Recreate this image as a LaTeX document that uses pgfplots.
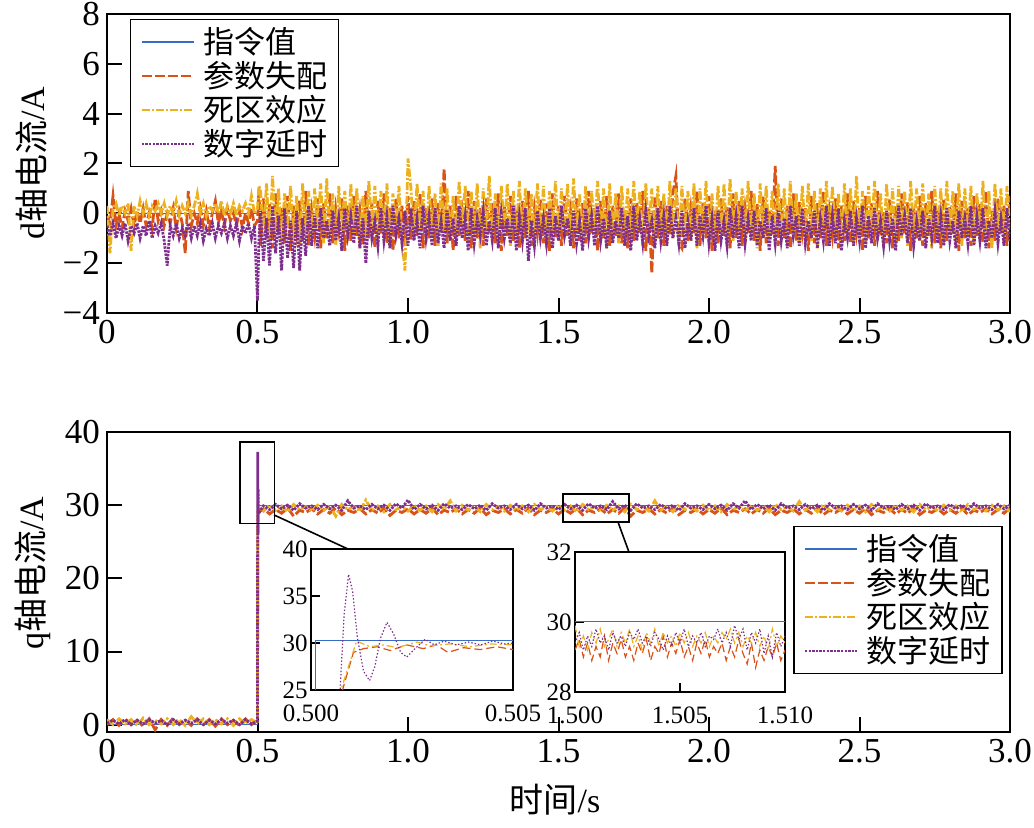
\documentclass[border=0pt]{standalone}
\usepackage{fontspec}
\setmainfont{Liberation Serif}
\newfontfamily\cjk{Noto Sans CJK SC}
\usepackage{pgfplots}
\pgfplotsset{compat=1.18}
\usepackage{pgfplotstable}
\definecolor{mb}{RGB}{55,110,195}
\definecolor{mo}{RGB}{217,83,25}
\definecolor{my}{RGB}{237,177,32}
\definecolor{mp}{RGB}{126,47,142}

\pgfplotstableread{
t a b c
0.00 -0.1 0.3 -0.5
0.01 -0.4 -1.6 -0.9
0.02 0.7 0.2 -0.4
0.03 -0.5 0.4 -1.0
0.04 0.0 -0.1 -0.5
0.05 -0.6 0.3 -0.9
0.06 0.1 0.0 -0.4
0.07 -0.3 0.4 -1.1
0.08 0.2 -1.5 -0.5
0.09 -0.5 0.3 -0.8
0.10 0.1 -0.1 -0.4
0.11 -0.4 0.5 -1.0
0.12 0.2 0.0 -0.5
0.13 -0.5 0.4 -0.9
0.14 0.0 -0.1 -0.3
0.15 -0.6 0.3 -1.0
0.16 0.6 0.1 -0.5
0.17 -0.3 0.4 -0.8
0.18 0.1 0.0 -0.4
0.19 -0.5 0.4 -1.1
0.20 0.0 -0.1 -2.1
0.21 -0.4 0.3 -0.5
0.22 0.2 0.0 -0.9
0.23 -0.6 0.5 -0.4
0.24 0.1 -0.1 -1.0
0.25 -0.4 0.3 -0.6
0.26 -1.6 0.0 -0.9
0.27 0.9 0.4 -0.4
0.28 -0.5 -0.1 -1.0
0.29 0.0 0.3 -0.5
0.30 -0.4 0.8 -0.9
0.31 0.2 0.0 -0.4
0.32 -0.5 0.4 -1.1
0.33 0.1 -0.1 -0.6
0.34 -0.6 0.3 -0.9
0.35 0.0 0.1 -0.4
0.36 0.5 0.4 -1.0
0.37 -0.4 0.0 -0.5
0.38 0.1 0.5 -0.8
0.39 -0.5 -0.1 -0.4
0.40 0.2 0.3 -1.0
0.41 -0.3 0.0 -0.5
0.42 0.0 0.4 -0.9
0.43 -0.5 -0.1 -0.4
0.44 0.1 0.3 -1.1
0.45 -0.6 0.1 -0.5
0.46 0.0 0.4 -0.8
0.47 -0.4 0.0 -0.4
0.48 0.2 0.7 -1.0
0.49 -0.5 0.0 -0.5
0.50 -0.3 0.2 -3.5
0.505 1.0 1.1 -1.0
0.51 -1.3 0.9 0.1
0.52 0.6 -0.9 -1.9
0.53 -1.0 1.2 -0.2
0.54 0.4 -1.1 -2.1
0.55 -1.4 1.5 0.3
0.56 0.8 -0.7 -1.6
0.57 -0.9 1.0 -0.1
0.58 0.2 -1.2 -2.3
0.59 -1.2 0.8 0.2
0.60 0.7 -0.6 -1.8
0.61 -1.5 1.1 -0.3
0.62 0.3 -1.0 -2.2
0.63 -0.8 0.7 0.1
0.64 0.5 -1.3 -2.3
0.65 -1.1 1.2 -0.2
0.66 0.9 -0.8 -1.7
0.67 -1.3 0.9 0.3
0.68 0.1 -1.1 -1.3
0.69 -0.9 1.0 -0.1
0.70 0.6 -0.5 -1.4
0.71 -1.4 1.2 0.2
0.72 0.4 -1.2 -1.0
0.73 -1.0 1.4 -0.3
0.74 0.8 -0.9 -1.3
0.75 -1.2 0.8 0.1
0.76 0.2 -1.3 -1.1
0.77 -0.7 1.1 -0.2
0.78 0.6 -0.7 -1.5
0.79 -1.5 0.9 0.2
0.80 0.3 -1.1 -0.9
0.81 -1.1 1.2 -0.1
0.82 0.7 -0.8 -1.2
0.83 -0.9 1.0 0.3
0.84 0.1 -1.4 -1.4
0.85 -1.3 0.7 -0.2
0.86 0.9 -1.0 -2.0
0.87 -1.0 1.3 0.1
0.88 0.4 -0.6 -1.0
0.89 -1.4 1.1 -0.3
0.90 0.5 -1.2 -1.3
0.91 -0.8 0.9 0.2
0.92 0.8 -0.9 -1.1
0.93 -1.2 1.2 -0.1
0.94 0.2 -1.3 -1.4
0.95 -1.5 0.8 0.3
0.96 0.6 -0.7 -0.9
0.97 -1.0 1.1 -0.2
0.98 0.3 -1.1 -1.2
0.99 -1.3 -2.3 0.1
1.00 0.7 2.2 -1.3
1.01 -1.1 1.0 0.2
1.02 0.5 -1.0 -1.1
1.03 -0.9 1.2 -0.2
1.04 0.8 -0.7 -1.4
1.05 -1.4 0.9 0.3
1.06 0.2 -1.2 -1.0
1.07 -1.0 1.1 -0.1
1.08 0.6 -0.9 -1.3
1.09 -1.3 0.8 0.2
1.10 0.4 -1.3 -1.2
1.11 -0.8 1.2 -0.3
1.12 1.8 -0.8 -1.4
1.13 -1.2 1.0 0.1
1.14 0.3 -1.1 -1.1
1.15 -1.5 0.7 -0.2
1.16 0.7 -1.0 -1.3
1.17 -0.9 1.3 0.3
1.18 0.1 -0.6 -1.0
1.19 -1.1 1.1 -0.1
1.20 0.9 -1.2 -1.5
1.21 -1.4 0.9 0.2
1.22 0.5 -0.9 -1.2
1.23 -1.0 1.2 -0.2
1.24 0.2 -1.4 -0.9
1.25 -1.3 1.0 0.1
1.26 0.6 -0.8 -1.3
1.27 -0.8 1.5 -0.3
1.28 0.4 -1.1 -1.1
1.29 -1.2 0.8 0.2
1.30 0.8 -1.0 -1.4
1.31 -1.5 1.1 0.0
1.32 0.3 -0.7 -1.0
1.33 -0.9 1.2 -0.2
1.34 0.7 -1.3 -1.2
1.35 -1.1 0.9 0.3
1.36 0.1 -0.9 -1.5
1.37 -1.4 1.3 -0.1
1.38 0.5 -1.2 -1.1
1.39 -1.0 1.0 0.2
1.40 0.9 -0.8 -1.9
1.41 -1.3 0.8 -0.3
1.42 0.2 -1.1 -1.3
1.43 -0.8 1.2 0.1
1.44 0.6 -1.0 -1.0
1.45 -1.2 1.1 -0.2
1.46 0.4 -1.4 -1.2
1.47 -1.5 0.9 0.2
1.48 0.8 -0.7 -1.4
1.49 -1.0 1.3 -0.1
1.50 0.3 -1.1 -1.1
1.51 -1.3 1.0 0.3
1.52 0.7 -0.9 -0.9
1.53 -0.9 1.2 -0.2
1.54 0.1 -1.3 -1.3
1.55 -1.4 1.4 0.1
1.56 0.6 -0.8 -1.2
1.57 -1.1 0.8 -0.3
1.58 0.4 -1.2 -1.5
1.59 -1.2 1.1 0.2
1.60 0.9 -1.0 -1.0
1.61 -0.8 0.9 -0.1
1.62 0.2 -0.7 -1.3
1.63 -1.5 1.3 0.3
1.64 0.5 -1.1 -1.1
1.65 -1.0 1.0 -0.2
1.66 0.7 -1.4 -1.4
1.67 -1.3 1.2 0.1
1.68 0.3 -0.9 -1.2
1.69 -0.9 0.8 -0.3
1.70 0.8 -1.2 -1.0
1.71 -1.2 1.1 0.2
1.72 0.1 -0.8 -1.3
1.73 -1.4 1.0 -0.1
1.74 0.6 -1.1 -1.5
1.75 -1.1 1.3 0.3
1.76 0.4 -1.0 -1.1
1.77 -0.8 0.9 -0.2
1.78 0.9 -1.3 -1.2
1.79 -1.5 1.2 0.1
1.80 0.2 -0.7 -0.9
1.81 -2.4 1.0 -0.3
1.82 0.7 -1.1 -1.4
1.83 -1.0 1.1 0.2
1.84 0.5 -0.9 -1.1
1.85 -1.3 0.8 -0.1
1.86 0.3 -1.2 -1.3
1.87 -0.9 1.3 0.3
1.88 0.8 -1.0 -1.0
1.89 1.5 1.0 -0.2
1.90 -1.2 -1.3 -1.2
1.91 -1.4 1.1 0.1
1.92 0.6 -0.8 -1.4
1.93 -1.1 0.9 -0.3
1.94 0.2 -1.1 -1.1
1.95 -0.8 1.2 0.2
1.96 0.9 -1.4 -1.3
1.97 -1.3 1.0 -0.1
1.98 0.4 -0.9 -0.9
1.99 -1.0 1.3 0.3
2.00 0.7 -1.2 -1.2
2.01 -1.5 0.8 -0.2
2.02 0.1 -1.0 -1.5
2.03 -1.2 1.1 0.1
2.04 0.6 -0.7 -1.1
2.05 -0.9 1.2 -0.3
2.06 0.3 -1.3 -1.3
2.07 -1.4 1.4 0.2
2.08 0.8 -1.1 -1.0
2.09 -1.0 0.9 -0.1
2.10 0.5 -0.8 -1.4
2.11 -1.3 1.0 0.3
2.12 0.2 -1.2 -1.2
2.13 -0.8 1.3 -0.2
2.14 0.9 -1.0 -1.1
2.15 -1.1 0.8 0.1
2.16 0.4 -1.4 -1.3
2.17 -1.5 1.2 -0.3
2.18 0.7 -0.9 -1.0
2.19 -1.2 1.1 0.2
2.20 0.1 -1.1 -1.5
2.21 -0.9 0.9 -0.1
2.22 1.9 -1.3 -1.2
2.23 -1.3 1.2 0.1
2.24 0.6 -0.8 -1.1
2.25 -1.0 1.0 -0.2
2.26 0.3 -1.2 -1.4
2.27 -1.4 1.3 0.3
2.28 0.8 -1.0 -0.9
2.29 -1.1 0.8 -0.1
2.30 0.5 -1.3 -1.3
2.31 -0.8 1.1 0.2
2.32 0.2 -0.9 -1.2
2.33 -1.5 1.2 -0.3
2.34 0.7 -1.1 -1.0
2.35 -1.2 0.9 0.1
2.36 0.4 -1.4 -1.4
2.37 -1.0 1.0 -0.2
2.38 0.9 -0.8 -1.1
2.39 -1.3 1.3 0.3
2.40 0.1 -1.2 -1.3
2.41 -0.9 1.1 -0.1
2.42 0.6 -1.0 -1.2
2.43 -1.4 0.8 0.2
2.44 0.3 -1.1 -1.5
2.45 -1.1 1.2 -0.3
2.46 0.8 -0.9 -1.0
2.47 -1.2 1.0 0.1
2.48 0.5 -1.3 -1.3
2.49 -0.8 1.5 -0.2
2.50 0.2 -1.0 -1.1
2.51 -1.5 0.9 0.3
2.52 0.7 -1.2 -1.4
2.53 -1.0 1.1 -0.1
2.54 0.4 -0.8 -1.2
2.55 -1.3 1.3 0.2
2.56 0.9 -1.1 -1.0
2.57 -0.9 0.8 -0.3
2.58 0.1 -1.4 -1.3
2.59 -1.2 1.2 0.1
2.60 0.6 -0.9 -1.1
2.61 -1.4 1.0 -0.2
2.62 0.3 -1.2 -1.5
2.63 -1.1 1.1 0.3
2.64 0.8 -1.0 -0.9
2.65 -0.8 0.9 -0.1
2.66 0.5 -1.3 -1.2
2.67 -1.5 1.3 0.2
2.68 0.2 -0.8 -1.3
2.69 -1.0 1.0 -0.3
2.70 0.7 -1.1 -1.1
2.71 -1.3 1.2 0.1
2.72 0.4 -1.0 -1.4
2.73 -0.9 0.8 -0.2
2.74 0.9 -1.4 -1.0
2.75 -1.2 1.1 0.3
2.76 0.1 -0.9 -1.2
2.77 -1.4 1.0 -0.1
2.78 0.6 -1.2 -1.3
2.79 -1.1 1.3 0.2
2.80 0.3 -0.8 -1.1
2.81 -0.8 0.9 -0.3
2.82 0.8 -1.1 -1.4
2.83 -1.5 1.2 0.1
2.84 0.5 -1.3 -1.0
2.85 -1.0 1.0 -0.2
2.86 0.2 -0.9 -1.2
2.87 -1.3 1.1 0.3
2.88 0.7 -1.2 -1.3
2.89 -0.9 0.8 -0.1
2.90 0.4 -1.0 -1.1
2.91 -1.2 1.3 0.2
2.92 0.9 -1.1 -1.4
2.93 -1.4 0.9 -0.3
2.94 0.1 -1.4 -1.0
2.95 -1.1 1.2 0.1
2.96 0.6 -0.8 -1.2
2.97 -0.8 1.0 -0.2
2.98 0.3 -1.2 -1.3
2.99 -1.3 1.1 0.2
3.00 0.7 -0.9 -1.1
}\dtab

\pgfplotstableread{
t a b c
0.00 0.0 0.7 0.2
0.02 0.7 0.0 0.6
0.04 -0.1 0.8 0.1
0.06 0.8 0.1 0.7
0.08 0.0 0.7 0.0
0.10 0.6 -0.1 0.6
0.12 -0.2 0.9 0.1
0.14 0.8 0.0 0.7
0.16 -0.7 0.6 0.2
0.18 0.7 0.1 0.6
0.20 -0.1 0.8 0.0
0.22 0.9 0.0 0.7
0.24 0.0 0.7 0.1
0.26 0.6 -0.1 0.6
0.28 -0.1 1.1 0.2
0.30 0.8 0.1 0.7
0.32 0.0 0.8 0.0
0.34 0.7 0.0 0.6
0.36 -0.2 0.7 0.1
0.38 0.8 0.1 0.7
0.40 0.0 0.8 0.2
0.42 0.6 -0.1 0.6
0.44 -0.1 0.8 0.0
0.46 0.8 0.1 0.7
0.48 0.0 0.7 0.1
0.50 0.6 0.2 0.5
0.5008 24.0 25.5 37.3
0.5015 28.5 30.1 26.0
0.5020 29.4 29.6 32.2
0.5025 29.0 30.0 28.8
0.52 29.5 29.2 29.9
0.54 28.8 30.0 29.4
0.56 29.4 29.3 30.1
0.58 28.9 29.9 29.5
0.60 29.6 29.1 30.0
0.62 28.5 30.1 29.3
0.64 29.3 29.4 30.2
0.66 29.0 29.8 29.6
0.68 29.5 29.2 29.9
0.70 28.8 30.0 29.4
0.72 29.4 29.3 30.1
0.74 28.9 29.9 29.5
0.76 29.6 28.5 30.0
0.78 28.7 30.1 29.3
0.80 29.3 29.4 30.6
0.82 29.0 29.8 29.6
0.84 29.5 29.2 29.9
0.86 28.8 30.7 29.4
0.88 29.4 29.3 30.1
0.90 28.9 29.9 29.5
0.92 29.6 29.1 30.0
0.94 28.6 30.1 29.3
0.96 29.3 29.4 30.2
0.98 29.0 29.8 29.6
1.00 29.5 29.2 30.7
1.02 28.8 30.0 29.4
1.04 29.4 29.3 30.1
1.06 28.9 29.9 29.5
1.08 29.6 29.1 30.0
1.10 28.7 30.1 29.3
1.12 29.3 29.4 30.2
1.14 29.0 30.6 29.6
1.16 29.5 29.2 29.9
1.18 28.8 30.0 29.4
1.20 29.4 29.3 30.1
1.22 28.9 29.9 29.5
1.24 29.6 29.1 30.0
1.26 28.7 30.1 29.3
1.28 29.3 29.4 30.2
1.30 29.0 29.8 29.6
1.32 29.5 29.2 29.9
1.34 28.8 30.0 29.4
1.36 29.4 29.3 30.1
1.38 28.9 29.9 29.5
1.40 29.6 29.1 30.0
1.42 28.7 30.1 29.3
1.44 29.3 29.4 30.2
1.46 29.0 29.8 29.6
1.48 29.5 29.2 29.9
1.50 28.8 30.0 29.4
1.52 29.4 29.3 30.1
1.54 28.9 29.9 29.5
1.56 29.6 29.1 30.0
1.58 28.7 30.1 29.3
1.60 29.3 29.4 30.2
1.62 29.0 29.8 29.6
1.64 29.5 29.2 29.9
1.66 28.8 30.0 29.4
1.68 29.4 29.3 30.5
1.70 28.9 29.9 29.5
1.72 29.6 29.1 30.0
1.74 28.5 30.1 29.3
1.76 29.3 29.4 30.2
1.78 29.0 29.8 29.6
1.80 29.5 29.2 29.9
1.82 28.8 30.6 29.4
1.84 29.4 29.3 30.1
1.86 28.9 29.9 29.5
1.88 29.6 29.1 30.0
1.90 28.7 30.1 29.3
1.92 29.3 29.4 30.2
1.94 29.0 29.8 29.6
1.96 29.5 29.2 29.9
1.98 28.8 30.0 29.4
2.00 29.4 29.3 30.1
2.02 28.9 29.9 29.5
2.04 29.6 29.1 30.0
2.06 28.7 30.1 29.3
2.08 29.3 29.4 30.2
2.10 29.0 29.8 29.6
2.12 29.5 29.2 30.6
2.14 28.8 30.0 29.4
2.16 29.4 29.3 30.1
2.18 28.9 29.9 29.5
2.20 29.6 29.1 30.0
2.22 28.7 30.1 29.3
2.24 29.3 29.4 30.2
2.26 29.0 29.8 29.6
2.28 29.5 29.2 29.9
2.30 28.8 30.5 29.4
2.32 29.4 29.3 30.1
2.34 28.9 29.9 29.5
2.36 29.6 29.1 30.0
2.38 28.7 30.1 29.3
2.40 29.3 29.4 30.2
2.42 29.0 29.8 29.6
2.44 29.5 29.2 29.9
2.46 28.8 30.0 29.4
2.48 29.4 29.3 30.1
2.50 28.9 29.9 29.5
2.52 29.6 29.1 30.0
2.54 28.7 30.1 29.3
2.56 29.3 29.4 30.2
2.58 29.0 29.8 29.6
2.60 29.5 29.2 29.9
2.62 28.8 30.0 29.4
2.64 29.4 29.3 30.1
2.66 28.9 29.9 29.5
2.68 29.6 29.1 30.0
2.70 28.7 30.1 29.3
2.72 29.3 29.4 30.2
2.74 29.0 29.8 29.6
2.76 29.5 29.2 29.9
2.78 28.8 30.0 29.4
2.80 29.4 29.3 30.1
2.82 28.9 29.9 29.5
2.84 29.6 29.1 30.0
2.86 28.7 30.1 29.3
2.88 29.3 29.4 30.2
2.90 29.0 29.8 29.6
2.92 29.5 29.2 29.9
2.94 28.8 30.0 29.4
2.96 29.4 29.3 30.1
2.98 28.9 29.9 29.5
3.00 29.6 29.1 30.0
}\qtab

\pgfplotstableread{
t a b c
1.5000 29.2 29.9 29.4
1.5002 29.5 29.3 29.7
1.5004 29.0 29.6 29.2
1.5006 29.4 29.2 29.6
1.5008 28.9 29.7 29.3
1.5010 29.3 29.4 29.8
1.5012 29.0 29.8 29.4
1.5014 29.6 29.3 29.6
1.5016 28.9 29.5 29.2
1.5018 29.4 29.8 29.7
1.5020 29.1 29.3 29.4
1.5022 29.5 29.7 29.6
1.5024 29.0 29.4 29.3
1.5026 29.3 29.8 29.7
1.5028 28.9 29.3 29.5
1.5030 29.4 29.6 29.8
1.5032 29.1 29.2 29.4
1.5034 29.5 29.7 29.6
1.5036 28.9 29.4 29.3
1.5038 29.3 29.8 29.7
1.5040 29.1 29.3 29.5
1.5042 29.6 29.7 29.2
1.5044 29.0 29.4 29.6
1.5046 29.4 29.6 29.3
1.5048 29.1 29.3 29.7
1.5050 29.5 29.7 29.4
1.5052 29.0 29.4 29.8
1.5054 29.3 29.7 29.3
1.5056 28.9 29.3 29.6
1.5058 29.4 29.6 29.4
1.5060 29.1 29.4 29.7
1.5062 29.5 29.7 29.3
1.5064 29.0 29.3 29.6
1.5066 29.3 29.6 29.5
1.5068 29.1 29.4 29.8
1.5070 29.4 29.7 29.4
1.5072 28.9 29.5 29.7
1.5074 29.3 29.8 29.3
1.5076 29.0 29.4 29.9
1.5078 29.5 29.7 29.5
1.5080 29.1 29.3 29.8
1.5082 28.8 29.6 29.2
1.5084 29.4 29.4 29.7
1.5086 28.7 29.7 29.4
1.5088 29.2 29.3 29.8
1.5090 28.9 29.6 29.1
1.5092 29.3 29.2 29.6
1.5094 29.0 29.8 29.0
1.5096 29.4 29.3 29.7
1.5098 28.9 29.6 29.3
1.5100 29.2 29.4 29.6
}\ztab

\pgfplotsset{
  sB/.style={mb, line width=0.5pt},
  sO/.style={mo, line width=1.4pt, dash pattern=on 5pt off 1.5pt},
  sY/.style={my, line width=1.4pt, dash pattern=on 4pt off 1pt on 1pt off 1pt},
  sP/.style={mp, line width=1.4pt, dash pattern=on 1.2pt off 0.6pt},
  iO/.style={mo, line width=0.6pt, dash pattern=on 4pt off 2pt},
  iY/.style={my, line width=0.6pt, dash pattern=on 3.5pt off 1.5pt on 1pt off 1.5pt},
  iP/.style={mp, line width=0.6pt, dash pattern=on 0.7pt off 1pt},
  mainax/.style={
    scale only axis, width=451.5pt,
    xmin=0, xmax=3,
    xtick={0,0.5,1,1.5,2,2.5,3},
    xticklabels={0,0.5,1.0,1.5,2.0,2.5,3.0},
    /pgf/number format/assume math mode=true,
    tick label style={font=\fontsize{17.5}{18}\selectfont},
    axis line style={line width=1pt},
    tick style={line width=1pt, black},
    major tick length=7.5pt,
    tick align=inside, tick pos=left,
    legend image code/.code={\draw[##1] (0pt,0pt) -- (26pt,0pt);},
    legend image post style={line width=1pt},
    legend style={draw=black, line width=0.7pt, fill=white,
      font=\cjk\fontsize{15.5}{17}\selectfont,
      cells={anchor=west}, inner xsep=5pt, inner ysep=3.5pt,
      row sep=1.3pt, column sep=4pt,
      nodes={inner sep=0.5pt}},
  },
  insetax/.style={
    scale only axis,
    axis background/.style={fill=white},
    scaled x ticks=false, scaled y ticks=false,
    /pgf/number format/assume math mode=true,
    tick label style={font=\fontsize{12.5}{12.5}\selectfont},
    xticklabel style={yshift=-4pt},
    yticklabel style={inner xsep=1.5pt},
    axis line style={line width=0.8pt},
    tick style={line width=0.8pt, black},
    major tick length=4.5pt,
    tick align=inside, tick pos=left,
  },
}

\begin{document}
\begin{tikzpicture}
\path[use as bounding box] (0pt,0pt) rectangle (517pt,-414pt);

% top: d axis current
\begin{axis}[mainax, at={(53.5pt,-156.5pt)}, anchor=south west,
  height=149.5pt, ymin=-4, ymax=8,
  ytick={-4,-2,0,2,4,6,8}, yticklabels={−4,−2,0,2,4,6,8},
  legend style={at={(0.0255,0.983)}, anchor=north west}]
\addplot[sB] coordinates {(0,0) (3,0)};
\addplot[sO] table[x=t,y=a]{\dtab};
\addplot[sY] table[x=t,y=b]{\dtab};
\addplot[sP] table[x=t,y=c]{\dtab};
\legend{指令值,参数失配,死区效应,数字延时}
\end{axis}

% bottom: q axis current
\begin{axis}[mainax, at={(53.5pt,-366pt)}, anchor=south west,
  height=150pt, ymin=-1, ymax=40,
  ytick={0,10,20,30,40}, yticklabels={0,10,20,30,40},
  legend style={at={(0.760,0.687)}, anchor=north west}]
\addplot[sB] coordinates {(0,0) (0.5,0) (0.5,30) (3,30)};
\addplot[sO] table[x=t,y=a]{\qtab};
\addplot[sY] table[x=t,y=b]{\qtab};
\addplot[sP] table[x=t,y=c]{\qtab};
\legend{指令值,参数失配,死区效应,数字延时}
\draw[line width=0.8pt] (axis cs:0.442,27.5) rectangle (axis cs:0.556,38.6);
\draw[line width=0.8pt] (axis cs:1.514,27.66) rectangle (axis cs:1.735,31.5);
\draw[line width=0.8pt] (axis cs:0.555,28.66) -- (axis cs:0.801,24.0);
\draw[line width=0.8pt] (axis cs:1.698,27.66) -- (axis cs:1.734,23.6);
\end{axis}

% inset 1
\begin{axis}[insetax, at={(155.5pt,-345pt)}, anchor=south west,
  width=101pt, height=70.5pt,
  xmin=0.5, xmax=0.505, ymin=25, ymax=40,
  xtick={0.5,0.505}, xticklabels={0.500,0.505},
  ytick={25,30,35,40}, yticklabels={25,30,35,40}]
\addplot[sB] coordinates {(0.5,0) (0.50012,0) (0.50012,30.3) (0.505,30.3)};
\addplot[iO] coordinates {(0.5,0.8) (0.50078,25) (0.50105,29.0) (0.5013,29.4) (0.50163,29.6) (0.50196,29.2) (0.50237,29.8) (0.50278,29.4) (0.5031,29.8) (0.50339,29.0) (0.50378,29.5) (0.50419,29.3) (0.5046,29.6) (0.505,29.3)};
\addplot[iY] coordinates {(0.5,0.5) (0.50074,25) (0.50113,30.2) (0.50146,29.6) (0.5018,29.8) (0.50213,29.5) (0.50262,30.1) (0.50295,29.7) (0.50344,29.9) (0.50394,29.6) (0.50444,29.9) (0.505,29.8)};
\addplot[iP] coordinates {(0.5,0.7) (0.50072,25) (0.50082,33) (0.50093,37.3) (0.50103,35.5) (0.50115,30.5) (0.5013,27) (0.50145,26.0) (0.50158,27.5) (0.50172,30.5) (0.50188,32.2) (0.50204,31.0) (0.50222,29.0) (0.50237,28.5) (0.50255,29.3) (0.50283,30.4) (0.50305,29.8) (0.5033,30.2) (0.5036,29.8) (0.5039,30.1) (0.5042,29.8) (0.5045,30.2) (0.5048,29.9) (0.505,30.0)};
\end{axis}

% inset 2
\begin{axis}[insetax, at={(287.5pt,-346pt)}, anchor=south west,
  width=105pt, height=70pt,
  xmin=1.5, xmax=1.51, ymin=28, ymax=32,
  xtick={1.5,1.505,1.51}, xticklabels={1.500,1.505,1.510},
  ytick={28,30,32}, yticklabels={28,30,32}]
\addplot[sB] coordinates {(1.5,30) (1.51,30)};
\addplot[iO] table[x=t,y=a]{\ztab};
\addplot[iY] table[x=t,y=b]{\ztab};
\addplot[iP] table[x=t,y=c]{\ztab};
\end{axis}

\node[rotate=90, font=\fontsize{17}{17}\selectfont] at (16pt,-81.75pt) {d{\cjk 轴电流}/A};
\node[rotate=90, font=\fontsize{17}{17}\selectfont] at (16.5pt,-286.5pt) {q{\cjk 轴电流}/A};
\node[font=\fontsize{17}{17}\selectfont] at (277.5pt,-400pt) {{\cjk 时间}/s};
\end{tikzpicture}
\end{document}
